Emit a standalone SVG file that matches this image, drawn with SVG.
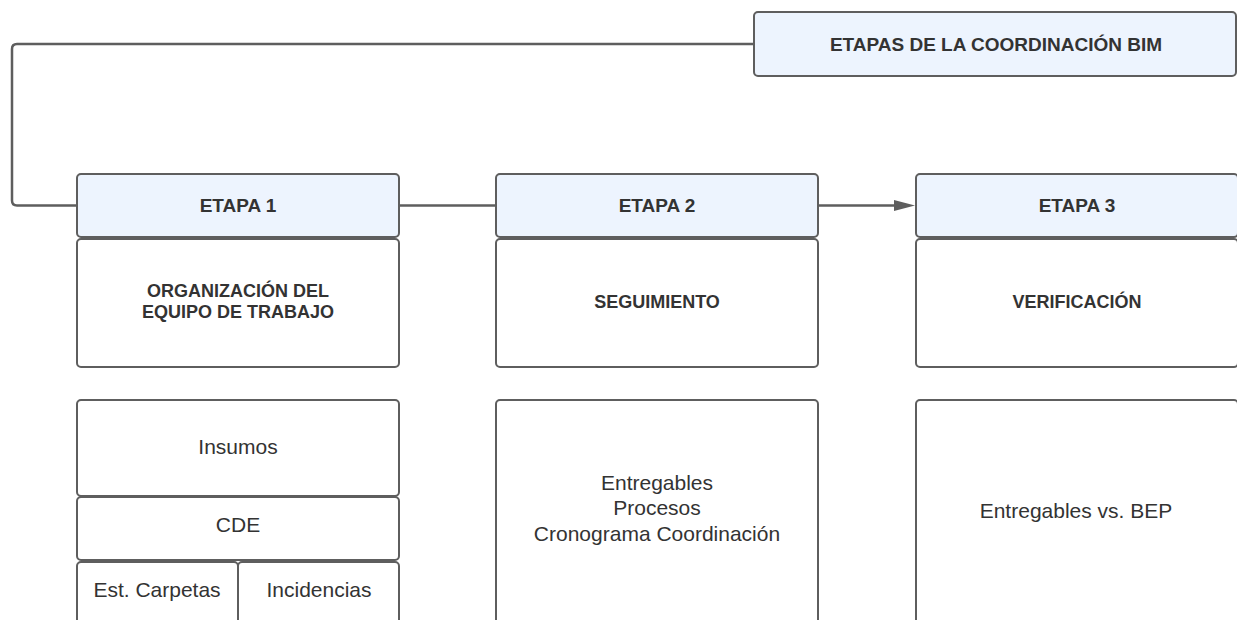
<svg xmlns="http://www.w3.org/2000/svg" width="1237" height="620" viewBox="0 0 1237 620">
<style>
.box{fill:#ffffff;stroke:#5e5e5e;stroke-width:2}
.hdr{fill:#edf4fe;stroke:#5e5e5e;stroke-width:2}
.b{font-family:"Liberation Sans",Arial,sans-serif;font-weight:bold;fill:#333333;text-anchor:middle}
.r{font-family:"Liberation Sans",Arial,sans-serif;font-size:21px;fill:#333333;text-anchor:middle}
.con{fill:none;stroke:#5e5e5e;stroke-width:2.5}
</style>
<defs>
<marker id="arr" markerWidth="10" markerHeight="10" refX="8" refY="5" orient="auto" markerUnits="userSpaceOnUse" viewBox="0 0 10 10">
<path d="M0,0.5 L9,5 L0,9.5 Z" fill="#5e5e5e"/>
</marker>
</defs>
<rect width="1237" height="620" fill="#ffffff"/>
<g id="connectors">
<path class="con" d="M754,44 H17 Q12,44 12,49 V200.5 Q12,205.5 17,205.5 H77"/>
<path class="con" d="M399,205.5 H496"/>
<path class="con" d="M818,205.5 H896"/>
<path d="M894,200 L915,205.5 L894,211 Z" fill="#5e5e5e"/>
</g>
<g id="title">
<rect class="hdr" x="754" y="12" width="482" height="64" rx="4"/>
<text class="b" x="996" y="51" font-size="19">ETAPAS DE LA COORDINACIÓN BIM</text>
</g>
<g id="etapa1">
<rect class="hdr" x="77" y="174" width="322" height="63" rx="4"/>
<text class="b" x="238" y="212" font-size="19">ETAPA 1</text>
</g>
<g id="etapa2">
<rect class="hdr" x="496" y="174" width="322" height="63" rx="4"/>
<text class="b" x="657" y="212" font-size="19">ETAPA 2</text>
</g>
<g id="etapa3">
<rect class="hdr" x="916" y="174" width="322" height="63" rx="4"/>
<text class="b" x="1077" y="212" font-size="19">ETAPA 3</text>
</g>
<g id="organizacion">
<rect class="box" x="77" y="239" width="322" height="128" rx="4"/>
<text class="b" x="238" y="297" font-size="18">ORGANIZACIÓN DEL</text>
<text class="b" x="238" y="318" font-size="18">EQUIPO DE TRABAJO</text>
</g>
<g id="seguimiento">
<rect class="box" x="496" y="239" width="322" height="128" rx="4"/>
<text class="b" x="657" y="308" font-size="18">SEGUIMIENTO</text>
</g>
<g id="verificacion">
<rect class="box" x="916" y="239" width="322" height="128" rx="4"/>
<text class="b" x="1077" y="308" font-size="18">VERIFICACIÓN</text>
</g>
<g id="insumos">
<rect class="box" x="77" y="400" width="322" height="96" rx="4"/>
<text class="r" x="238" y="454">Insumos</text>
</g>
<g id="cde">
<rect class="box" x="77" y="497" width="322" height="63" rx="4"/>
<text class="r" x="238" y="532">CDE</text>
</g>
<g id="carpetas">
<rect class="box" x="77" y="562" width="161" height="80" rx="4"/>
<text class="r" x="157" y="597">Est. Carpetas</text>
</g>
<g id="incidencias">
<rect class="box" x="238" y="562" width="161" height="80" rx="4"/>
<text class="r" x="319" y="597">Incidencias</text>
</g>
<g id="entregables">
<rect class="box" x="496" y="400" width="322" height="240" rx="4"/>
<text class="r" x="657" y="490">Entregables</text>
<text class="r" x="657" y="515">Procesos</text>
<text class="r" x="657" y="541">Cronograma Coordinación</text>
</g>
<g id="bep">
<rect class="box" x="916" y="400" width="322" height="240" rx="4"/>
<text class="r" x="1076" y="518">Entregables vs. BEP</text>
</g>
</svg>
